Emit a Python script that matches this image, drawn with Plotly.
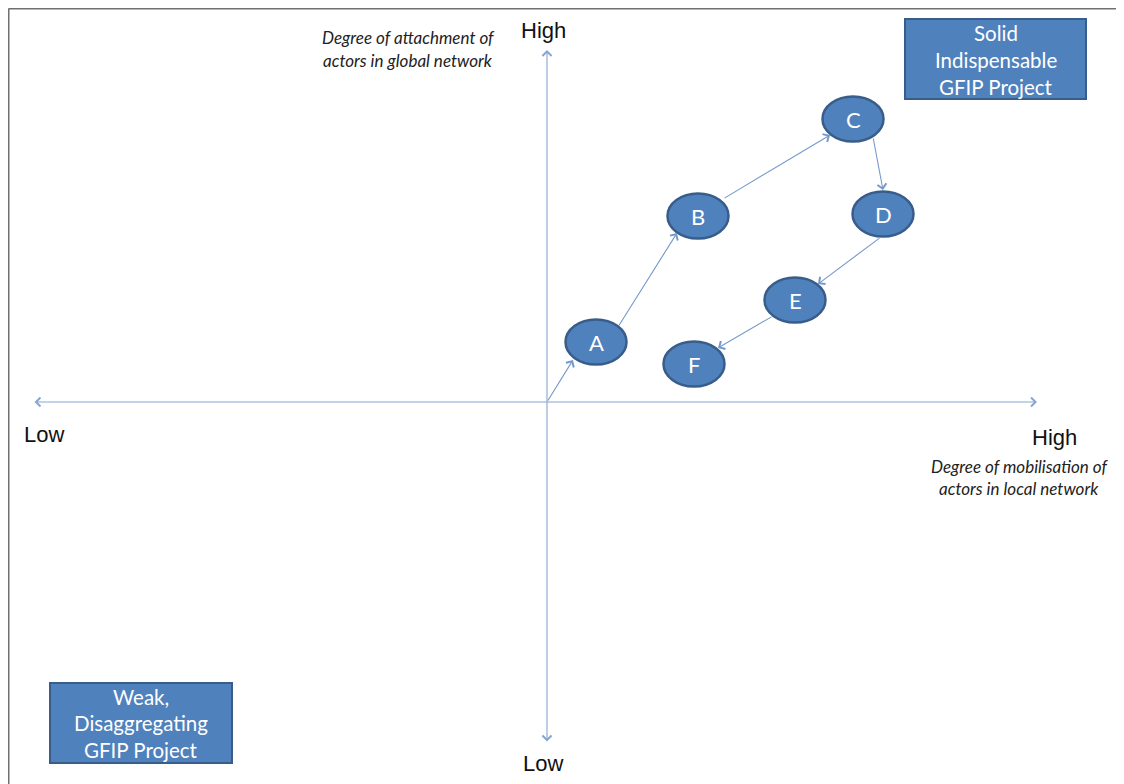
import plotly.graph_objects as go

# ---- data (units: 1 = 100 px, origin at axis crossing) ----
node_labels = ["A", "B", "C", "D", "E", "F"]
node_x = [0.49, 1.51, 3.06, 3.36, 2.48, 1.47]
node_y = [0.60, 1.86, 2.83, 1.88, 1.02, 0.38]
node_w = 0.61
node_h = 0.45

# arrows (tail -> head)
arrow_x0 = [0.00, 0.71, 1.76, 3.26, 3.34, 2.26]
arrow_y0 = [0.00, 0.75, 2.03, 2.65, 1.65, 0.86]
arrow_x1 = [0.26, 1.30, 2.83, 3.36, 2.71, 1.71]
arrow_y1 = [0.42, 1.69, 2.67, 2.12, 1.18, 0.54]

# axis extents
x_axis_ends = [-5.14, 4.90]
y_axis_ends = [-3.41, 3.52]

x_title = ["Degree of mobilisation of", "actors in local network"]
y_title = ["Degree of attachment of", "actors in global network"]
box_top_lines = ["Solid", "Indispensable", "GFIP Project"]
box_bot_lines = ["Weak,", "Disaggregating", "GFIP Project"]

NODE_FILL = "#4f81bd"
NODE_LINE = "#385d8a"
ARROW_C = "#7499c9"
AXIS_C = "#86a5cf"
FONT = "Lato"

fig = go.Figure()

shapes = []
annotations = []

# page border (top and left)
shapes.append(dict(type="line", x0=-5.385, x1=5.77, y0=3.935, y1=3.935,
                   line=dict(color="#707070", width=2)))
shapes.append(dict(type="line", x0=-5.385, x1=-5.385, y0=3.935, y1=-3.82,
                   line=dict(color="#707070", width=2)))

# axes as double-headed arrows
annotations.append(dict(x=x_axis_ends[1], y=0, ax=x_axis_ends[0], ay=0,
                        xref="x", yref="y", axref="x", ayref="y", text="",
                        showarrow=True, arrowhead=4, startarrowhead=4,
                        arrowside="end+start", arrowsize=1.6, startarrowsize=1.6,
                        arrowwidth=1.1, arrowcolor=AXIS_C))
annotations.append(dict(x=0, y=y_axis_ends[1], ax=0, ay=y_axis_ends[0],
                        xref="x", yref="y", axref="x", ayref="y", text="",
                        showarrow=True, arrowhead=4, startarrowhead=4,
                        arrowside="end+start", arrowsize=1.6, startarrowsize=1.6,
                        arrowwidth=1.1, arrowcolor=AXIS_C))

# nodes
for cx, cy in zip(node_x, node_y):
    shapes.append(dict(type="circle", xref="x", yref="y",
                       x0=cx - node_w / 2, x1=cx + node_w / 2,
                       y0=cy - node_h / 2, y1=cy + node_h / 2,
                       fillcolor=NODE_FILL, line=dict(color=NODE_LINE, width=2.5),
                       layer="above"))
for lab, cx, cy in zip(node_labels, node_x, node_y):
    annotations.append(dict(x=cx, y=cy, text=lab, showarrow=False,
                            font=dict(family=FONT, size=22, color="white"),
                            xanchor="center", yanchor="middle"))

# connecting arrows
for x0, y0, x1, y1 in zip(arrow_x0, arrow_y0, arrow_x1, arrow_y1):
    annotations.append(dict(x=x1, y=y1, ax=x0, ay=y0, xref="x", yref="y",
                            axref="x", ayref="y", text="", showarrow=True,
                            arrowhead=4, arrowsize=1.6, arrowwidth=1.1,
                            arrowcolor=ARROW_C))

# High / Low labels
lab_font = dict(family="Liberation Sans", size=22, color="#111111")
for txt, x, y in [("High", -0.04, 3.72), ("Low", -0.04, -3.61),
                  ("Low", -5.03, -0.32), ("High", 5.07, -0.35)]:
    annotations.append(dict(x=x, y=y, text=txt, showarrow=False, font=lab_font,
                            xanchor="center", yanchor="middle"))

# italic axis titles
it_font = dict(family=FONT, size=17, color="#222222")
for txt, y in zip(y_title, [3.65, 3.42]):
    annotations.append(dict(x=-1.39, y=y, text="<i>" + txt + "</i>", showarrow=False,
                            font=it_font, xanchor="center", yanchor="middle"))
for txt, y in zip(x_title, [-0.64, -0.86]):
    annotations.append(dict(x=4.72, y=y, text="<i>" + txt + "</i>", showarrow=False,
                            font=it_font, xanchor="center", yanchor="middle"))

# quadrant boxes
box_font = dict(family=FONT, size=20.5, color="white")
shapes.append(dict(type="rect", x0=3.58, x1=5.39, y0=3.03, y1=3.83,
                   fillcolor=NODE_FILL, line=dict(color=NODE_LINE, width=2)))
for txt, y in zip(box_top_lines, [3.69, 3.42, 3.15]):
    annotations.append(dict(x=4.485, y=y, text=txt, showarrow=False, font=box_font,
                            xanchor="center", yanchor="middle"))
shapes.append(dict(type="rect", x0=-4.97, x1=-3.15, y0=-3.61, y1=-2.81,
                   fillcolor=NODE_FILL, line=dict(color=NODE_LINE, width=2)))
for txt, y in zip(box_bot_lines, [-2.95, -3.21, -3.48]):
    annotations.append(dict(x=-4.06, y=y, text=txt, showarrow=False, font=box_font,
                            xanchor="center", yanchor="middle"))

# page has an 8px body margin: figure is 1116x776, offset by 8px
fig.update_layout(
    width=1116, height=776,
    margin=dict(l=0, r=0, t=0, b=0),
    paper_bgcolor="white", plot_bgcolor="white",
    xaxis=dict(range=[-5.39, 5.77], visible=False, fixedrange=True),
    yaxis=dict(range=[-3.82, 3.94], visible=False, fixedrange=True),
    shapes=shapes, annotations=annotations, showlegend=False,
)

fig.write_html("out.html")
